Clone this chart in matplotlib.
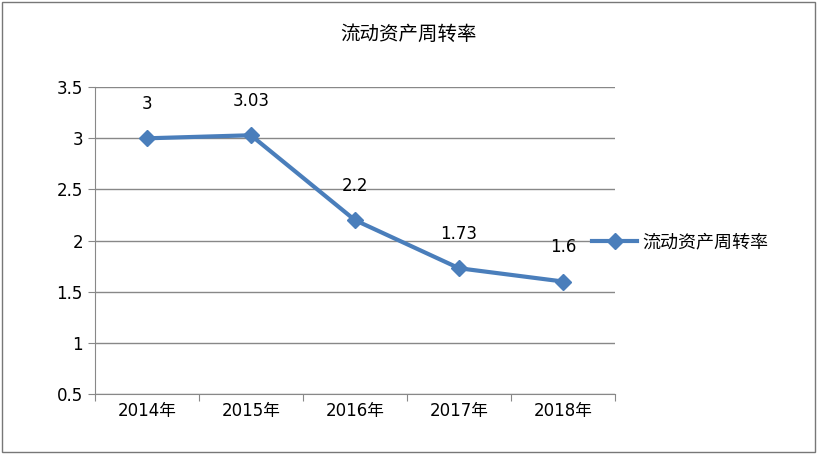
import matplotlib
matplotlib.use("Agg")
import matplotlib.pyplot as plt
from matplotlib.patches import Rectangle

categories = ["2014年", "2015年", "2016年", "2017年", "2018年"]
values = [3, 3.03, 2.2, 1.73, 1.6]
labels = ["3", "3.03", "2.2", "1.73", "1.6"]
series_name = "流动资产周转率"
yticks = [0.5, 1, 1.5, 2, 2.5, 3, 3.5]

plt.rcParams["font.family"] = ["DejaVu Sans", "Noto Sans CJK SC", "Noto Sans CJK JP",
                               "Noto Sans CJK TC", "Noto Sans CJK KR"]
fig = plt.figure(figsize=(8.17, 4.54), dpi=100)
fig.patches.append(Rectangle((0.003, 0.005), 0.994, 0.99, transform=fig.transFigure,
                             fill=False, edgecolor="#777777", lw=1))
ax = fig.add_axes([0.116, 0.132, 0.637, 0.676])
x = list(range(len(categories)))
line, = ax.plot(x, values, color="#4a7ebb", lw=3, marker="D", markersize=8, label=series_name)
for xi, v, t in zip(x, values, labels):
    ax.text(xi, v + 0.25, t, ha="center", va="bottom", fontsize=12)
ax.set_xlim(-0.5, len(categories) - 0.5)
ax.set_ylim(0.5, 3.5)
ax.set_yticks(yticks)
ax.set_yticklabels([f"{t:g}" for t in yticks], fontsize=12)
ax.set_xticks([i - 0.5 for i in range(len(categories) + 1)])
ax.set_xticklabels([])
ax.set_xticks(x, minor=True)
ax.set_xticklabels(categories, minor=True, fontsize=12)
ax.tick_params(axis="x", which="minor", length=0, pad=6)
ax.tick_params(axis="x", which="major", length=5, color="#888888")
ax.tick_params(axis="y", length=5, color="#888888")
ax.grid(axis="y", color="#888888", lw=1)
ax.set_axisbelow(True)
for s in ["top", "right"]:
    ax.spines[s].set_visible(False)
for s in ["left", "bottom"]:
    ax.spines[s].set_color("#888888")
fig.text(0.5, 0.925, series_name, ha="center", va="center", fontsize=14)
fig.legend(handles=[line], loc="center left", bbox_to_anchor=(0.705, 0.467), frameon=False,
           fontsize=13, handlelength=2.5, handletextpad=0.3)
fig.savefig("out.png", dpi=100)
